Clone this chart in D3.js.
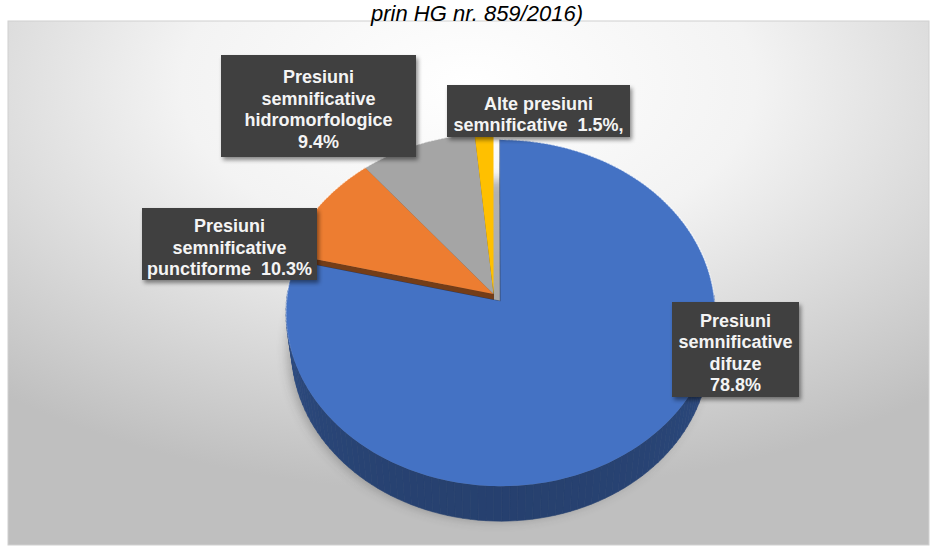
<!DOCTYPE html>
<html>
<head>
<meta charset="utf-8">
<script src="https://cdn.jsdelivr.net/npm/d3@7"></script>
<style>
  html, body { margin: 0; padding: 0; background: #ffffff; }
  svg { display: block; }
</style>
</head>
<body>
<script>
// ---- data ----
const categories = [
  "Presiuni semnificative difuze",
  "Presiuni semnificative punctiforme",
  "Presiuni semnificative hidromorfologice",
  "Alte presiuni semnificative"
];
const values = [78.8, 10.3, 9.4, 1.5];
// label text, "{v}" is replaced by the formatted value
const labelTemplates = [
  "Presiuni\nsemnificative\ndifuze\n{v}",
  "Presiuni\nsemnificative\npunctiforme  {v}",
  "Presiuni\nsemnificative\nhidromorfologice\n{v}",
  "Alte presiuni\nsemnificative  {v},"
];
const titleText = "prin HG nr. 859/2016)";

// ---- styling / layout ----
const W = 937, H = 549;
const topColors = ["#4472c4", "#ed7d31", "#a5a5a5", "#ffc000"];
const explode = [0.053, 0, 0, 0];               // radial pull-out, in radius units
// label boxes: centre x, centre y, width, height
const labelBoxes = [
  [735.5, 349.5, 127, 95],
  [229.5, 244, 175, 72],
  [318.5, 106, 195, 102],
  [538.5, 111, 183, 52]
];

// 3D projection of a tilted pie with perspective
const P = { cx: 493.5, cy: 294, S: 213.5, sinE: 0.804, cosE: 0.594, D: 8.9, thick: 0.306 };
function proj(u, v, z) {               // u: right, v: toward viewer, z: downward
  const depth = -v * P.cosE + z * P.sinE;
  const k = P.D / (P.D + depth);
  return { x: P.cx + P.S * u * k, y: P.cy + P.S * (v * P.sinE + z * P.cosE) * k, depth };
}

const svg = d3.select("body").append("svg").attr("width", W).attr("height", H);
const defs = svg.append("defs");

// chart-area background
const bg = defs.append("radialGradient").attr("id", "bgGrad")
  .attr("cx", "50%").attr("cy", "12%").attr("r", "78%");
bg.append("stop").attr("offset", "0%").attr("stop-color", "#ffffff");
bg.append("stop").attr("offset", "40%").attr("stop-color", "#f3f3f3");
bg.append("stop").attr("offset", "100%").attr("stop-color", "#bfbfbf");

const blurShadow = defs.append("filter").attr("id", "pieShadow")
  .attr("x", "-20%").attr("y", "-20%").attr("width", "140%").attr("height", "140%");
blurShadow.append("feGaussianBlur").attr("stdDeviation", 6);

const boxShadow = defs.append("filter").attr("id", "boxShadow")
  .attr("x", "-10%").attr("y", "-10%").attr("width", "130%").attr("height", "140%");
boxShadow.append("feDropShadow").attr("dx", 2).attr("dy", 3).attr("stdDeviation", 2)
  .attr("flood-color", "#000").attr("flood-opacity", 0.45);

svg.append("rect").attr("x", 8).attr("y", 21).attr("width", 921).attr("height", 524)
  .attr("fill", "url(#bgGrad)").attr("stroke", "#d0d0d0").attr("stroke-width", 1);

// title
svg.append("text").attr("x", 477).attr("y", 21)
  .attr("text-anchor", "middle")
  .style("font-family", "'Liberation Sans', Arial, sans-serif")
  .style("font-style", "italic").style("font-size", "22px").attr("fill", "#000")
  .text(titleText);

// ---- pie geometry ----
const arcs = d3.pie().sort(null).value(d => d)(values);
const line = d3.line().x(d => d.x).y(d => d.y);
const STEP = Math.PI / 180;

function arcPoints(a0, a1, z, du, dv) {
  const n = Math.max(2, Math.ceil((a1 - a0) / STEP));
  const pts = [];
  for (let i = 0; i <= n; i++) {
    const a = a0 + (a1 - a0) * i / n;
    pts.push(proj(Math.sin(a) + du, -Math.cos(a) + dv, z));
  }
  return pts;
}

const slices = arcs.map((d, i) => {
  const mid = (d.startAngle + d.endAngle) / 2;
  return { ...d, i, du: explode[i] * Math.sin(mid), dv: -explode[i] * Math.cos(mid) };
});

// shadow under the pie
const gShadow = svg.append("g").attr("filter", "url(#pieShadow)").attr("opacity", 0.35)
  .attr("transform", "translate(3,7)");
gShadow.append("path")
  .attr("d", line(arcPoints(0, 2 * Math.PI, P.thick, 0, 0)) + "Z")
  .attr("fill", "#303030");

// side faces: outer wall segments and radial cut faces, painted far to near
const faces = [];
const area = pts => Math.abs(d3.polygonArea(pts.map(p => [p.x, p.y])));
slices.forEach(s => {
  const base = d3.color(topColors[s.i]);
  const n = Math.max(1, Math.ceil((s.endAngle - s.startAngle) / (2 * STEP)));
  for (let k = 0; k < n; k++) {
    const a0 = s.startAngle + (s.endAngle - s.startAngle) * k / n;
    const a1 = s.startAngle + (s.endAngle - s.startAngle) * (k + 1) / n;
    const am = (a0 + a1) / 2;
    if (-Math.cos(am) < -0.05) continue;             // back half is hidden by the tops
    const t0 = proj(Math.sin(a0) + s.du, -Math.cos(a0) + s.dv, 0);
    const t1 = proj(Math.sin(a1) + s.du, -Math.cos(a1) + s.dv, 0);
    const b1 = proj(Math.sin(a1) + s.du, -Math.cos(a1) + s.dv, P.thick);
    const b0 = proj(Math.sin(a0) + s.du, -Math.cos(a0) + s.dv, P.thick);
    const shade = base.darker(1.1 + 0.5 * (-Math.cos(am)));
    faces.push({ pts: [t0, t1, b1, b0], depth: (t0.depth + t1.depth) / 2, fill: shade.formatHex() });
  }
  [s.startAngle, s.endAngle].forEach(a => {
    const c0 = proj(s.du, s.dv, 0), c1 = proj(s.du, s.dv, P.thick);
    const r0 = proj(Math.sin(a) + s.du, -Math.cos(a) + s.dv, 0);
    const r1 = proj(Math.sin(a) + s.du, -Math.cos(a) + s.dv, P.thick);
    const pts = [c0, r0, r1, c1];
    if (area(pts) < 40) return;                      // edge-on, not visible
    faces.push({ pts, depth: (c0.depth + r0.depth) / 2 + 0.02,
                 fill: base.darker(2).formatHex() });
  });
});
faces.sort((a, b) => b.depth - a.depth);
svg.append("g").selectAll("path").data(faces).join("path")
  .attr("d", f => line(f.pts) + "Z")
  .attr("fill", f => f.fill).attr("stroke", f => f.fill).attr("stroke-width", 0.6)
  .attr("stroke-linejoin", "round");

// top faces, with a soft light rim along the far edge
const gTop = svg.append("g");
slices.forEach(s => {
  const apex = proj(s.du, s.dv, 0);
  const rim = arcPoints(s.startAngle, s.endAngle, 0, s.du, s.dv);
  gTop.append("path").attr("d", line([apex, ...rim]) + "Z")
    .attr("fill", topColors[s.i]);
});
slices.forEach(s => {
  const a0 = s.startAngle, a1 = s.endAngle;
  const n = Math.max(2, Math.ceil((a1 - a0) / STEP));
  for (let k = 0; k < n; k++) {
    const b0 = a0 + (a1 - a0) * k / n, b1 = a0 + (a1 - a0) * (k + 1) / n;
    const v = -Math.cos((b0 + b1) / 2);
    const op = Math.max(0, Math.min(0.6, (0.35 - v) * 0.9));
    if (op <= 0) continue;
    const p0 = proj(Math.sin(b0) + s.du, -Math.cos(b0) + s.dv, 0);
    const p1 = proj(Math.sin(b1) + s.du, -Math.cos(b1) + s.dv, 0);
    gTop.append("path").attr("d", line([p0, p1]))
      .attr("stroke", "#ffffff").attr("stroke-opacity", op).attr("stroke-width", 1.4)
      .attr("stroke-linecap", "round");
  }
});

// ---- data labels ----
const fmt = v => d3.format(".1f")(v) + "%";
const LH = 21.5;
const gLab = svg.append("g")
  .style("font-family", "'Liberation Sans', Arial, sans-serif")
  .style("font-weight", "bold").style("font-size", "18px");
values.forEach((v, i) => {
  const [bx, by, bw, bh] = labelBoxes[i];
  gLab.append("rect").attr("x", bx - bw / 2).attr("y", by - bh / 2)
    .attr("width", bw).attr("height", bh)
    .attr("fill", "#404040").attr("filter", "url(#boxShadow)");
  const lines = labelTemplates[i].replace("{v}", fmt(v)).split("\n");
  const y0 = by + 3 - (lines.length - 1) * LH / 2 + 6.5;
  const t = gLab.append("text").attr("text-anchor", "middle").attr("fill", "#f4f4f4")
    .style("white-space", "pre");
  lines.forEach((ln, j) => {
    t.append("tspan").attr("x", bx).attr("y", y0 + j * LH).text(ln);
  });
});
</script>
</body>
</html>
